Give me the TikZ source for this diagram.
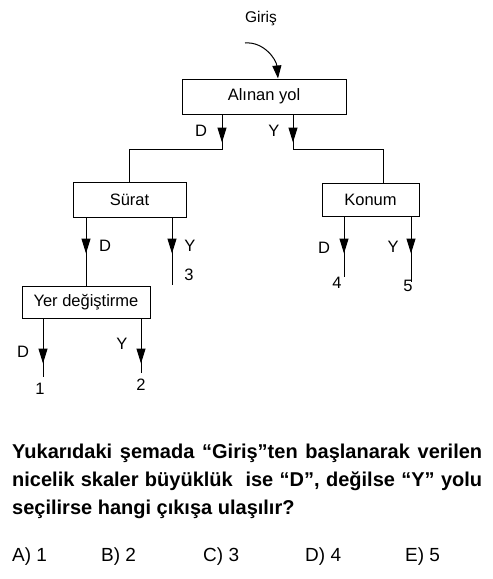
\documentclass[tikz,border=0pt]{standalone}
\usepackage{fontspec}
\setmainfont{Liberation Sans}
\usetikzlibrary{arrows.meta,decorations.markings,positioning}

\begin{document}
\begin{tikzpicture}
[x=1pt, y=-1pt,
box/.style={draw=black, line width=1pt, rectangle, inner sep=0pt, font=\fontsize{16.5}{19}\selectfont},
lbl/.style={inner sep=0pt, font=\fontsize{16.5}{19}\selectfont},
opt/.style={inner sep=0pt, anchor=west, font=\fontsize{19}{22}\selectfont},
line/.style={line width=1pt},
midtip/.style={line, postaction={decorate}, decoration={markings, mark=at position #1 with {\arrow{Triangle[length=15pt,width=9pt]}}}},
]
    \useasboundingbox (0,0) rectangle (493,579);
    % start
    \node (giris) [lbl, font=\fontsize{15.5}{18}\selectfont] at (261,19) {Giriş};
    \coordinate (gin) at (245,43);
    \node (yol) [box, minimum width=164pt, minimum height=35pt] at (264,96.5) {Alınan yol};
    \draw[line, -{Triangle[length=13pt,width=9pt]}] (gin) to[out=5, in=95] (yol.north -| 278,0);

    % second level
    \node (surat) [box, minimum width=113pt, minimum height=35pt] at (129.5,199.5) {Sürat};
    \node (konum) [box, minimum width=97pt, minimum height=33pt] at (370.5,199.5) {Konum};
    \coordinate (yolD) at (222,149);
    \coordinate (yolY) at (293,149);
    \draw[midtip=28pt] (yol.south -| yolD) -- (yolD) -| (surat.north);
    \draw[midtip=28pt] (yol.south -| yolY) -- (yolY) -| ([xshift=12.5pt]konum.north);
    \node (yolDl) [lbl] at (201,131) {D};
    \node (yolYl) [lbl] at (274,131) {Y};

    % third level
    \node (yer) [box, minimum width=128pt, minimum height=32pt] at (86,302) {Yer değiştirme};
    \coordinate (out3) at (172,285);
    \draw[midtip=36pt] (surat.south -| yer.north) -- (yer.north);
    \draw[midtip=36pt] (surat.south -| out3) -- (out3);
    \node (suratDl) [lbl] at (105,246) {D};
    \node (suratYl) [lbl] at (190,246) {Y};
    \node (n3) [lbl] at (189,275) {3};

    \coordinate (out4) at (344,277);
    \coordinate (out5) at (411,282);
    \draw[midtip=37pt] (konum.south -| out4) -- (out4);
    \draw[midtip=37pt] (konum.south -| out5) -- (out5);
    \node (konumDl) [lbl] at (324,248) {D};
    \node (konumYl) [lbl] at (393,247) {Y};
    \node (n4) [lbl] at (337,283) {4};
    \node (n5) [lbl] at (408,286) {5};

    % last level
    \coordinate (out1) at (43,377);
    \coordinate (out2) at (141,373);
    \draw[midtip=45pt] (yer.south -| out1) -- (out1);
    \draw[midtip=45pt] (yer.south -| out2) -- (out2);
    \node (yerDl) [lbl] at (23,352) {D};
    \node (yerYl) [lbl] at (122,344) {Y};
    \node (n1) [lbl] at (40,389) {1};
    \node (n2) [lbl] at (141,385) {2};

    % question
    \node (soru) [anchor=north west, inner sep=0pt, align=left,
        font=\fontsize{20}{28}\selectfont\bfseries] at (12,444)
        {\makebox[470pt][s]{Yukarıdaki şemada “Giriş”ten başlanarak verilen}\\
        \makebox[470pt][s]{nicelik skaler büyüklük\ \ ise “D”, değilse “Y” yolu}\\
        seçilirse hangi çıkışa ulaşılır?};
    \node (optA) [opt] at (12,557) {A) 1};
    \node (optB) [opt] at (101,557) {B) 2};
    \node (optC) [opt] at (203,557) {C) 3};
    \node (optD) [opt] at (305,557) {D) 4};
    \node (optE) [opt] at (405,557) {E) 5};
\end{tikzpicture}
\end{document}
